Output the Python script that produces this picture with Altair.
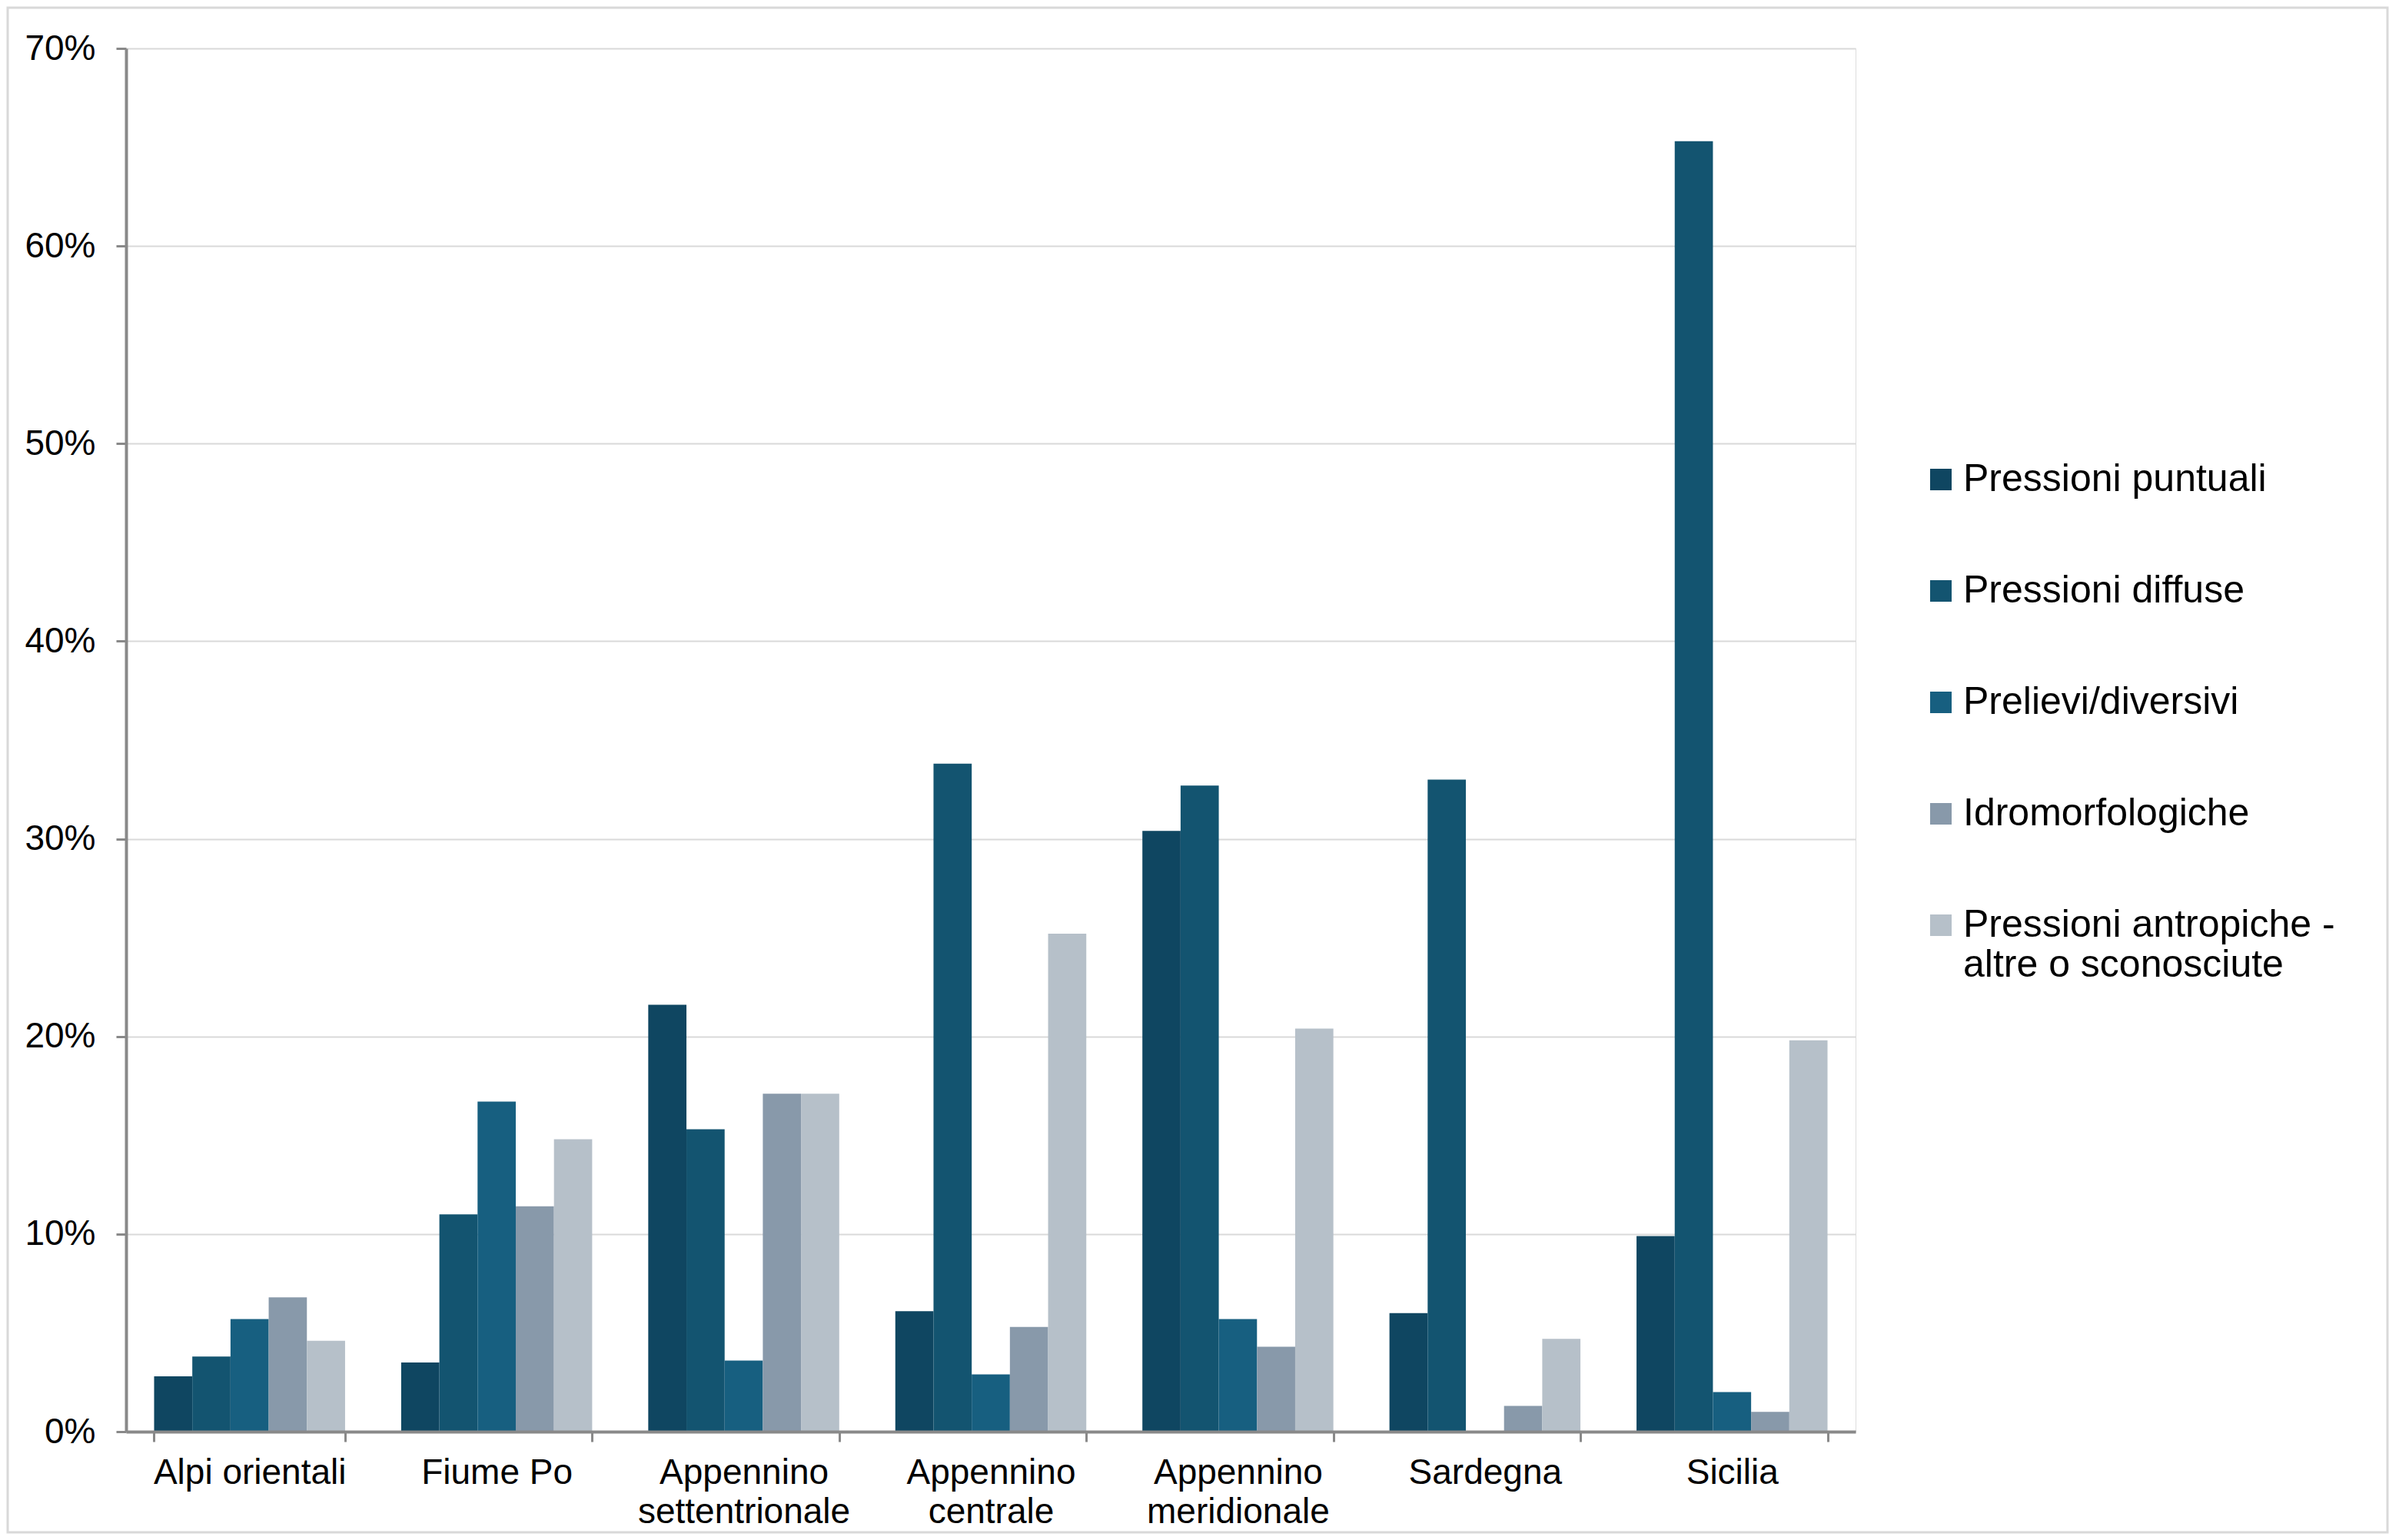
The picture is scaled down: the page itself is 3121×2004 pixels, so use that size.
import altair as alt
import pandas as pd

regions = ["Alpi orientali", "Fiume Po", "Appennino settentrionale", "Appennino centrale",
           "Appennino meridionale", "Sardegna", "Sicilia"]
series = ["Pressioni puntuali", "Pressioni diffuse", "Prelievi/diversivi", "Idromorfologiche",
          "Pressioni antropiche - altre o sconosciute"]
puntuali = [2.8, 3.5, 21.6, 6.1, 30.4, 6.0, 9.9]
diffuse = [3.8, 11.0, 15.3, 33.8, 32.7, 33.0, 65.3]
prelievi = [5.7, 16.7, 3.6, 2.9, 5.7, 0.0, 2.0]
idromorfologiche = [6.8, 11.4, 17.1, 5.3, 4.3, 1.3, 1.0]
antropiche = [4.6, 14.8, 17.1, 25.2, 20.4, 4.7, 19.8]
colors = ["#0F4661", "#135470", "#175F80", "#8899AA", "#B6C0C9"]
y_ticks = [0, 10, 20, 30, 40, 50, 60, 70]

rows = []
for s, vals in zip(series, [puntuali, diffuse, prelievi, idromorfologiche, antropiche]):
    for r, v in zip(regions, vals):
        rows.append({"region": r, "series": s, "value": v})
df = pd.DataFrame(rows)

FONT = "Liberation Sans"
W, H = 2250, 1800
PAD = {"left": 156, "top": 55, "right": 694, "bottom": 133}

bars = alt.Chart(df).mark_bar().encode(
    x=alt.X("region:N", sort=regions,
            scale=alt.Scale(paddingInner=0.227, paddingOuter=0.1135),
            axis=alt.Axis(title=None, labelAngle=0, tickBand="extent", grid=False,
                          domainColor="#898989", domainWidth=4, tickColor="#898989",
                          tickWidth=3, tickSize=13, labelFont=FONT, labelFontSize=46,
                          labelColor="black", labelPadding=18, labelLineHeight=51,
                          labelLimit=1000,
                          labelExpr="indexof(datum.label, 'Appennino') == 0 ? split(datum.label, ' ') : datum.label",
                          zindex=1)),
    xOffset=alt.XOffset("series:N", sort=series,
                        scale=alt.Scale(paddingInner=0, paddingOuter=0)),
    y=alt.Y("value:Q", scale=alt.Scale(domain=[0, 70], nice=False),
            axis=alt.Axis(title=None, values=y_ticks, labelExpr="datum.value + '%'",
                          domainColor="#898989", domainWidth=4, tickColor="#898989",
                          tickWidth=3, tickSize=13, gridColor="#D9D9D9", gridWidth=2,
                          labelFont=FONT, labelFontSize=46, labelColor="black",
                          labelPadding=27)),
    color=alt.Color("series:N", sort=series,
                    scale=alt.Scale(domain=series, range=colors),
                    legend=alt.Legend(title=None, orient="none", legendX=2336, legendY=536,
                                      symbolType="square", symbolSize=784,
                                      symbolStrokeWidth=0, labelFont=FONT,
                                      labelFontSize=50, labelColor="black",
                                      rowPadding=95, labelOffset=4, labelLimit=1000,
                                      padding=0,
                                      labelExpr="datum.label == 'Pressioni antropiche - altre o sconosciute' ? ['Pressioni antropiche -', 'altre o sconosciute'] : datum.label")),
)

frame = alt.Chart(alt.Data(values=[{"f": 1}])).mark_rect(
    fillOpacity=0, stroke="#D9D9D9", strokeWidth=3
).encode(
    x=alt.value(-154), x2=alt.value(W + PAD["right"] - 2),
    y=alt.value(-53), y2=alt.value(H + PAD["bottom"] - 2),
)

chart = alt.layer(bars, frame).properties(
    width=W, height=H, padding=PAD,
    autosize=alt.AutoSizeParams(type="none"),
).configure_view(stroke=None).configure(background="white")

chart.save("out.html", embed_options={"renderer": "svg", "actions": False})
